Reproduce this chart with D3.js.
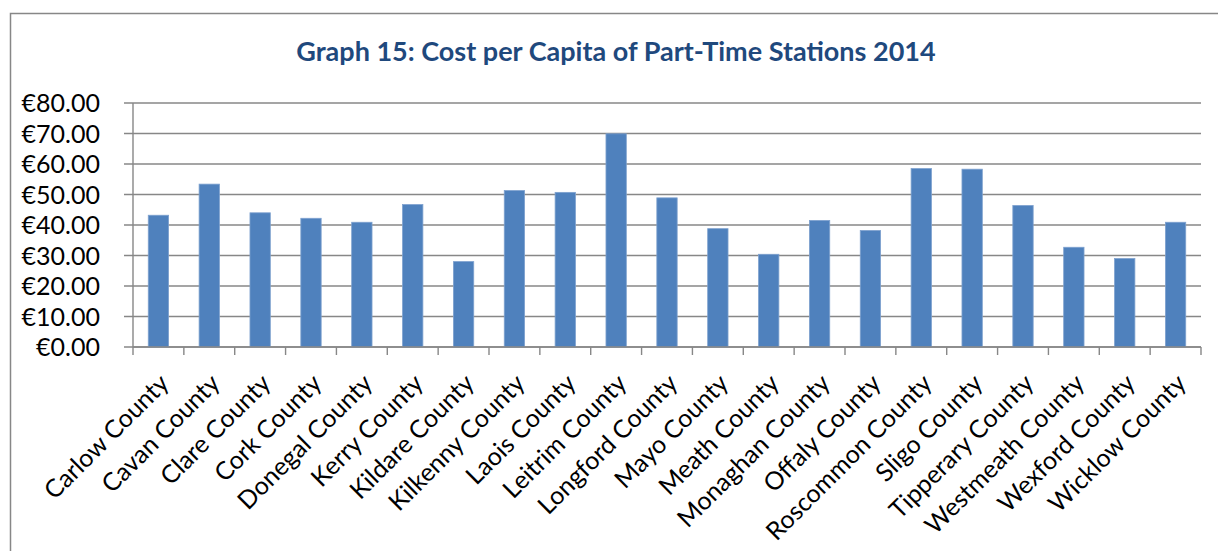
<!DOCTYPE html>
<html>
<head>
<meta charset="utf-8">
<script src="https://cdnjs.cloudflare.com/ajax/libs/d3/7.8.5/d3.min.js"></script>
<style>
  html, body { margin: 0; padding: 0; background: #fff; }
  svg { display: block; }
</style>
</head>
<body>
<div id="chart"></div>
<script>
(function () {
  'use strict';

  var title = 'Graph 15: Cost per Capita of Part-Time Stations 2014';

  var counties = [
    'Carlow County', 'Cavan County', 'Clare County', 'Cork County',
    'Donegal County', 'Kerry County', 'Kildare County', 'Kilkenny County',
    'Laois County', 'Leitrim County', 'Longford County', 'Mayo County',
    'Meath County', 'Monaghan County', 'Offaly County', 'Roscommon County',
    'Sligo County', 'Tipperary County', 'Westmeath County', 'Wexford County',
    'Wicklow County'
  ];

  var costPerCapita = [
    43.2, 53.4, 44.0, 42.2, 40.9, 46.7, 28.0, 51.3, 50.7, 69.9, 48.9,
    38.8, 30.4, 41.5, 38.2, 58.5, 58.3, 46.4, 32.7, 29.0, 40.9
  ];

  var yTicks = [0, 10, 20, 30, 40, 50, 60, 70, 80];

  var width = 1218,
    height = 551,
    left = 133,
    right = 1201,
    top = 103,
    bottom = 347,
    gridColor = '#878787',
    font = 'Lato, "Open Sans", sans-serif';

  var svg = d3.select('#chart')
    .append('svg')
    .attr('width', width)
    .attr('height', height);

  // outer chart border (runs off the right and bottom of the picture)
  svg.append('rect')
    .attr('x', 10.5)
    .attr('y', 13.5)
    .attr('width', width + 20)
    .attr('height', height + 20)
    .attr('fill', 'none')
    .attr('stroke', gridColor)
    .attr('stroke-width', 1.5);

  svg.append('text')
    .attr('x', 616)
    .attr('y', 61)
    .attr('text-anchor', 'middle')
    .attr('fill', '#1f497d')
    .style('font-family', font)
    .style('font-weight', 'bold')
    .style('font-size', '27px')
    .text(title);

  var x = d3.scaleBand()
    .domain(counties)
    .range([left, right])
    .paddingInner(0.6)
    .paddingOuter(0.3);

  var y = d3.scaleLinear()
    .domain([0, 80])
    .range([bottom, top]);

  // gridlines
  svg.append('g')
    .selectAll('line')
    .data(yTicks)
    .enter()
    .append('line')
    .attr('x1', left - 9)
    .attr('x2', right)
    .attr('y1', function (d) { return y(d); })
    .attr('y2', function (d) { return y(d); })
    .attr('stroke', gridColor)
    .attr('stroke-width', 1.4);

  // y labels
  svg.append('g')
    .selectAll('text')
    .data(yTicks)
    .enter()
    .append('text')
    .attr('x', 100)
    .attr('y', function (d) { return y(d); })
    .attr('dy', '0.36em')
    .attr('text-anchor', 'end')
    .attr('fill', '#000')
    .style('font-family', font)
    .style('font-size', '25px')
    .text(function (d) { return '\u20ac' + d3.format('.2f')(d); });

  // y axis line
  svg.append('line')
    .attr('x1', left).attr('x2', left)
    .attr('y1', top).attr('y2', bottom)
    .attr('stroke', gridColor)
    .attr('stroke-width', 1.4);

  // bars
  svg.append('g')
    .selectAll('rect')
    .data(costPerCapita)
    .enter()
    .append('rect')
    .attr('x', function (d, i) { return x(counties[i]); })
    .attr('y', function (d) { return y(d); })
    .attr('width', x.bandwidth())
    .attr('height', function (d) { return bottom - y(d); })
    .attr('fill', '#4f81bd')
    .attr('stroke', '#7ea1cf')
    .attr('stroke-width', 0.8);

  // x axis with category boundary ticks
  var boundaries = d3.range(counties.length + 1).map(function (i) {
    return left + i * (right - left) / counties.length;
  });

  svg.append('line')
    .attr('x1', left).attr('x2', right)
    .attr('y1', bottom).attr('y2', bottom)
    .attr('stroke', gridColor)
    .attr('stroke-width', 1.4);

  svg.append('g')
    .selectAll('line')
    .data(boundaries)
    .enter()
    .append('line')
    .attr('x1', function (d) { return d; })
    .attr('x2', function (d) { return d; })
    .attr('y1', bottom)
    .attr('y2', bottom + 8)
    .attr('stroke', gridColor)
    .attr('stroke-width', 1.4);

  // rotated category labels
  svg.append('g')
    .selectAll('text')
    .data(counties)
    .enter()
    .append('text')
    .attr('text-anchor', 'end')
    .attr('transform', function (d) {
      var cx = x(d) + x.bandwidth() / 2;
      return 'translate(' + [cx + 12, bottom + 38] + ') rotate(-45)';
    })
    .attr('fill', '#000')
    .style('font-family', font)
    .style('font-size', '25px')
    .text(function (d) { return d; });
}());
</script>
</body>
</html>
